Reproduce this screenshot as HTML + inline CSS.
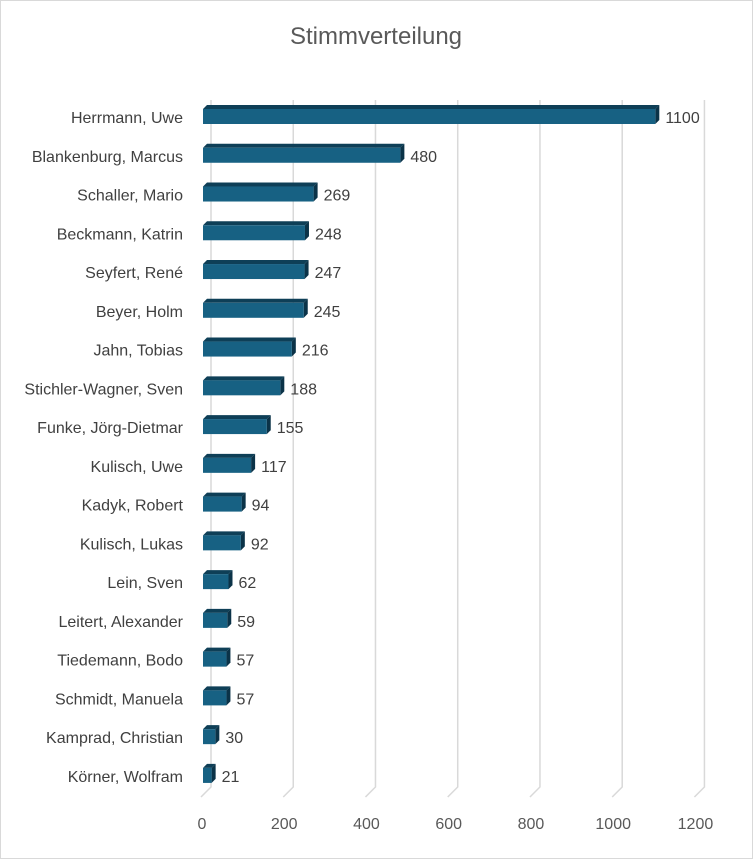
<!DOCTYPE html>
<html><head><meta charset="utf-8"><style>
body{margin:0;background:#fff}
svg{display:block;font-family:"Liberation Sans",sans-serif}
</style></head><body>
<svg width="753" height="859" viewBox="0 0 753 859">
<rect x="0.5" y="0.5" width="752" height="858" fill="#fff" stroke="#d9d9d9"/>
<text x="376" y="44" text-anchor="middle" font-size="24" fill="#595959">Stimmverteilung</text>
<g stroke="#d9d9d9" stroke-width="1.5" fill="none" id="grid"></g>
<g id="bars"></g>
<g id="ticks" font-size="16" fill="#595959" text-anchor="middle"></g>
</svg>
<script>
const ns="http://www.w3.org/2000/svg";
const data=[["Herrmann, Uwe",1100],["Blankenburg, Marcus",480],["Schaller, Mario",269],["Beckmann, Katrin",248],["Seyfert, René",247],["Beyer, Holm",245],["Jahn, Tobias",216],["Stichler-Wagner, Sven",188],["Funke, Jörg-Dietmar",155],["Kulisch, Uwe",117],["Kadyk, Robert",94],["Kulisch, Lukas",92],["Lein, Sven",62],["Leitert, Alexander",59],["Tiedemann, Bodo",57],["Schmidt, Manuela",57],["Kamprad, Christian",30],["Körner, Wolfram",21]];
const x0=203,k=0.4112,dx=8,dy=7;
const g=document.getElementById('grid'),b=document.getElementById('bars'),t=document.getElementById('ticks');
function el(p,tag,a,txt){const e=document.createElementNS(ns,tag);for(const n in a)e.setAttribute(n,a[n]);if(txt!=null)e.textContent=txt;p.appendChild(e);return e;}
for(let v=0;v<=1200;v+=200){const x=x0+v*k;
 el(g,'polyline',{points:`${x+dx},100 ${x+dx},787 ${x-2},797`});
 el(t,'text',{x:x-1,y:829},String(v));}
data.forEach((d,i)=>{const cy=117+i*38.76;const w=d[1]*k;const top=cy-8,h=15;
 el(b,'polygon',{points:`${x0},${top} ${x0+4},${top-4} ${x0+w+4},${top-4} ${x0+w},${top}`,fill:'#0e3f57'});
 el(b,'polygon',{points:`${x0+w},${top} ${x0+w+4},${top-4} ${x0+w+4},${top+h-4} ${x0+w},${top+h}`,fill:'#0b3348'});
 el(b,'rect',{x:x0,y:top,width:w,height:h,fill:'#176183'});
 el(b,'text',{x:183,y:cy+6,'text-anchor':'end','font-size':16,fill:'#404040'},d[0]);
 el(b,'text',{x:x0+w+10,y:cy+6,'font-size':16,fill:'#404040'},String(d[1]));
});
</script>
</body></html>
